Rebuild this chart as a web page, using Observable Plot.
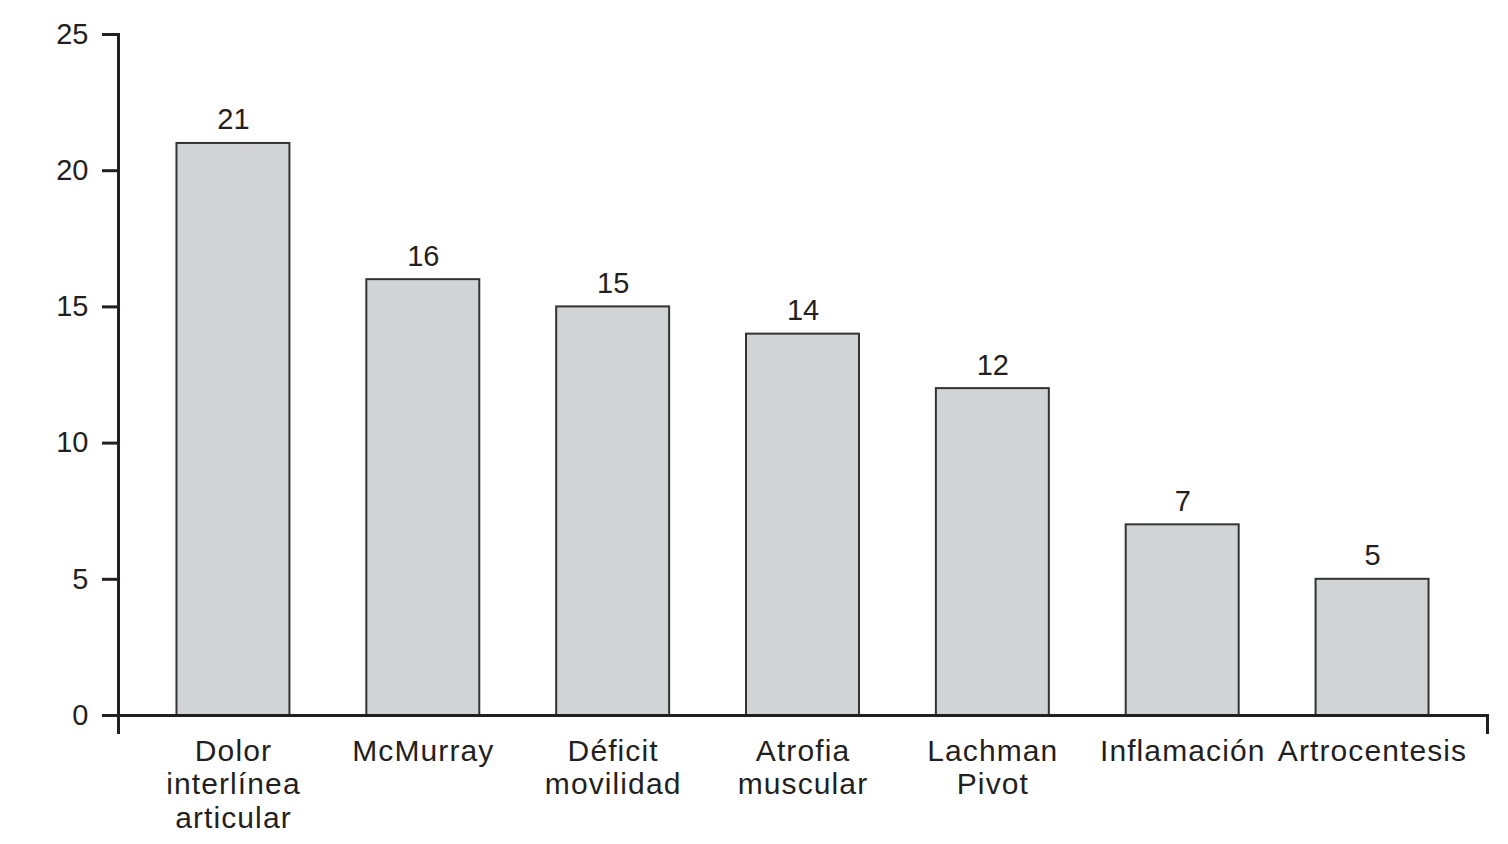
<!DOCTYPE html>
<html>
<head>
<meta charset="utf-8">
<script src="https://cdn.jsdelivr.net/npm/d3@7"></script>
<script src="https://cdn.jsdelivr.net/npm/@observablehq/plot@0.6"></script>
<style>
  html, body { margin: 0; padding: 0; background: #fff; }
  #chart svg { display: block; }
  #chart g[aria-label="x-axis tick label"] text { letter-spacing: 1.1px; }
</style>
</head>
<body>
<div id="chart"></div>
<script>
const categories = ["Dolor\ninterlínea\narticular", "McMurray", "Déficit\nmovilidad", "Atrofia\nmuscular", "Lachman\nPivot", "Inflamación", "Artrocentesis"];
const values = [21, 16, 15, 14, 12, 7, 5];
const yTicks = [0, 5, 10, 15, 20, 25];

const data = categories.map((c, i) => ({category: c, value: values[i]}));
const font = "'Liberation Sans', Arial, Helvetica, sans-serif";
const ink = "#231f20";

const chart = Plot.plot({
  width: 1508,
  height: 844,
  marginLeft: 118,
  marginRight: 21,
  marginTop: 34,
  marginBottom: 129,
  style: {fontFamily: font, background: "#fff", color: ink},
  x: {domain: categories, paddingInner: 0.405, paddingOuter: 0.308, round: false, label: null},
  y: {domain: [0, 25], label: null},
  marks: [
    Plot.barY(data, {x: "category", y: "value", fill: "#d1d3d4", stroke: "#333", strokeWidth: 2}),
    Plot.text(data, {x: "category", y: "value", text: d => String(d.value), lineAnchor: "bottom", dy: -14, fontSize: 29, fill: ink}),
    Plot.axisY({ticks: yTicks, tickSize: 16, tickPadding: 14, fontSize: 29, strokeWidth: 3, stroke: ink, fill: ink}),
    Plot.axisX({tickSize: 0, tickPadding: 21, fontSize: 30, lineHeight: 1.13, fill: ink}),
    Plot.frame({anchor: "left", insetBottom: -17, strokeWidth: 3, stroke: ink}),
    Plot.frame({anchor: "bottom", strokeWidth: 3, stroke: ink}),
    Plot.frame({anchor: "right", insetTop: 681, insetBottom: -17, strokeWidth: 3, stroke: ink})
  ]
});
document.getElementById("chart").appendChild(chart);
</script>
</body>
</html>
